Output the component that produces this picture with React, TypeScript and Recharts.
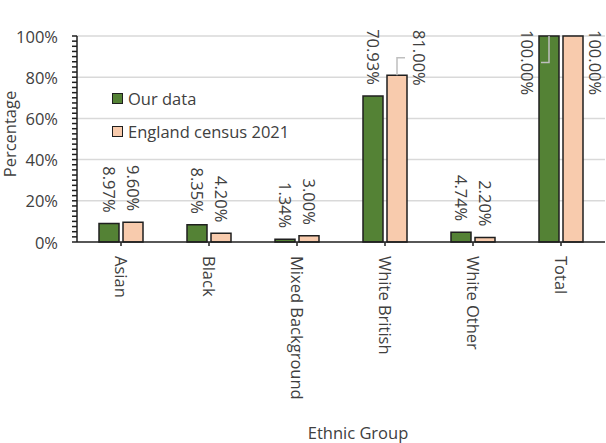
import { Bar, BarChart, CartesianGrid, LabelList, XAxis, YAxis } from "recharts";

const groups = ["Asian", "Black", "Mixed Background", "White British", "White Other", "Total"];
const ourData = [8.97, 8.35, 1.34, 70.93, 4.74, 100];
const censusData = [9.6, 4.2, 3.0, 81.0, 2.2, 100];
const majorTicks = [0, 20, 40, 60, 80, 100];
// minor tick marks between the labelled ones (8 per step)
const yTicks = [
  0,
  ...majorTicks
    .slice(1)
    .flatMap((t, i) => [1, 2, 3, 4, 5, 6, 7, 8].map((k) => majorTicks[i] + ((t - majorTicks[i]) * k) / 8)),
];

const data = groups.map((g, i) => ({ group: g, ours: ourData[i], census: censusData[i] }));

const FONT = "'Open Sans', sans-serif";
const FS = 16.5;
const TEXT = "#404040";
const GREEN = "#548235";
const PEACH = "#f8cbad";
const EDGE = "#1f1f1f";

// rough width of a "12.34%" string
const textW = (s: string, fs: number) => {
  let w = 0;
  for (const c of s) w += c === "." ? 0.27 : c === "%" ? 0.82 : 0.572;
  return w * fs;
};

function makeLabel(side: number) {
  return (p: any) => {
    const vb = p.viewBox ?? p;
    const x = Number(vb.x);
    const y = Number(vb.y);
    const w = Number(vb.width);
    const h = Number(vb.height);
    const v = Number(p.value);
    const txt = v.toFixed(2) + "%";
    const cx = x + w / 2;
    const plotTop = y + h - (h * 100) / v;
    const len = textW(txt, FS);
    const gap = 11;
    if (y - gap - len >= plotTop - 9) {
      const ey = y - gap;
      return (
        <text
          x={cx}
          y={ey}
          transform={`rotate(90, ${cx}, ${ey})`}
          textAnchor="end"
          dominantBaseline="central"
          fontFamily={FONT}
          fontSize={FS}
          fill={TEXT}
        >
          {txt}
        </text>
      );
    }
    // label would run off the top: move it beside the bar with a leader line
    const lx = cx + side * 22;
    const ly = plotTop - 6;
    const mid = ly + len / 2;
    return (
      <g>
        {(side < 0 || v < 100) && (
          <polyline
            points={`${cx},${y} ${cx},${mid} ${lx - side * 14},${mid}`}
            fill="none"
            stroke="#bfbfbf"
            strokeWidth={1.5}
          />
        )}
        <text
          x={lx}
          y={ly}
          transform={`rotate(90, ${lx}, ${ly})`}
          textAnchor="start"
          dominantBaseline="central"
          fontFamily={FONT}
          fontSize={FS}
          fill={TEXT}
        >
          {txt}
        </text>
      </g>
    );
  };
}

const XTick = (p: any) => {
  const { x, y, payload } = p;
  return (
    <text
      x={x}
      y={y}
      transform={`rotate(90, ${x}, ${y})`}
      textAnchor="start"
      dominantBaseline="central"
      fontFamily={FONT}
      fontSize={FS}
      fill={TEXT}
    >
      {payload.value}
    </text>
  );
};

const YTick = (p: any) => {
  const { x, y, payload } = p;
  if (!majorTicks.includes(payload.value)) return null;
  return (
    <text x={x} y={y} textAnchor="end" dominantBaseline="central" fontFamily={FONT} fontSize={FS} fill={TEXT}>
      {payload.value}%
    </text>
  );
};

const legendItems = [
  { name: "Our data", color: GREEN },
  { name: "England census 2021", color: PEACH },
];

export default function App() {
  return (
    <div style={{ position: "absolute", left: 0, top: 0, width: 606, height: 443, background: "#fff" }}>
      <BarChart
        width={606}
        height={443}
        data={data}
        margin={{ top: 36, right: 1, left: 0, bottom: 0 }}
        barCategoryGap="25%"
        barGap={4}
      >
        <CartesianGrid vertical={false} horizontalValues={[20, 40, 60, 80, 100]} stroke="#d9d9d9" strokeWidth={1.5} />
        <XAxis
          dataKey="group"
          interval={0}
          height={201}
          tickSize={4}
          tickMargin={10}
          axisLine={{ stroke: EDGE, strokeWidth: 1.5 }}
          tickLine={{ stroke: EDGE, strokeWidth: 1.5 }}
          tick={<XTick />}
          label={{
            content: (p: any) => {
              const vb = p.viewBox;
              return (
                <text
                  x={vb.x + vb.width / 2 + 17}
                  y={432}
                  textAnchor="middle"
                  dominantBaseline="central"
                  fontFamily={FONT}
                  fontSize={FS}
                  fill={TEXT}
                >
                  Ethnic Group
                </text>
              );
            },
          }}
        />
        <YAxis
          width={77}
          domain={[0, 100]}
          ticks={yTicks}
          interval={0}
          tickSize={5}
          tickMargin={14}
          axisLine={{ stroke: EDGE, strokeWidth: 1.5 }}
          tickLine={{ stroke: EDGE, strokeWidth: 1.5 }}
          tick={<YTick />}
          label={{
            content: (p: any) => {
              const vb = p.viewBox;
              const cy = vb.y + vb.height / 2 - 5;
              return (
                <text
                  x={9}
                  y={cy}
                  transform={`rotate(-90, 9, ${cy})`}
                  textAnchor="middle"
                  dominantBaseline="central"
                  fontFamily={FONT}
                  fontSize={FS}
                  fill={TEXT}
                >
                  Percentage
                </text>
              );
            },
          }}
        />
        <Bar dataKey="ours" fill={GREEN} stroke={EDGE} strokeWidth={1.5} isAnimationActive={false}>
          <LabelList dataKey="ours" content={makeLabel(-1)} />
        </Bar>
        <Bar dataKey="census" fill={PEACH} stroke={EDGE} strokeWidth={1.5} isAnimationActive={false}>
          <LabelList dataKey="census" content={makeLabel(1)} />
        </Bar>
      </BarChart>
      <div style={{ position: "absolute", left: 112, top: 88, fontFamily: FONT, fontSize: FS, color: TEXT }}>
        {legendItems.map((it) => (
          <div key={it.name} style={{ display: "flex", alignItems: "center", height: 21, marginBottom: 12 }}>
            <span
              style={{
                width: 9,
                height: 9,
                background: it.color,
                border: `1.5px solid ${EDGE}`,
                marginRight: 5,
                display: "inline-block",
              }}
            />
            <span>{it.name}</span>
          </div>
        ))}
      </div>
    </div>
  );
}
